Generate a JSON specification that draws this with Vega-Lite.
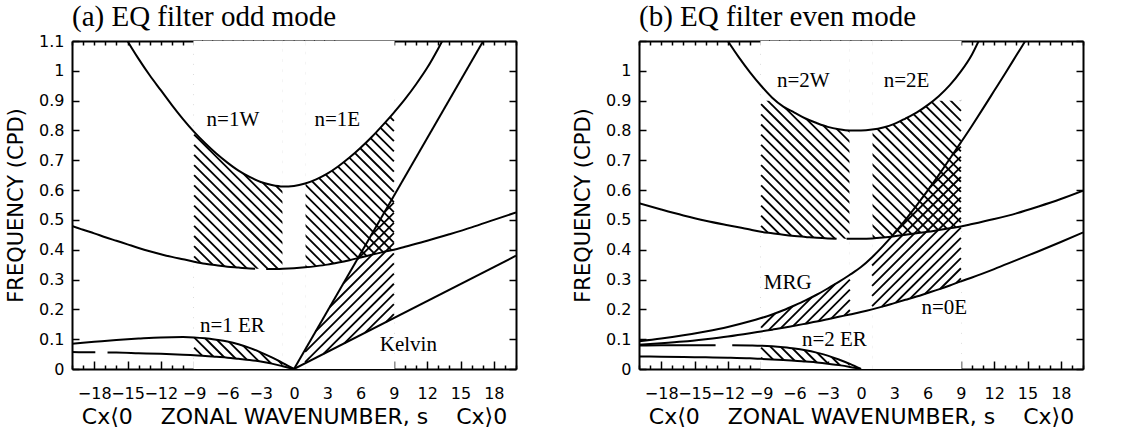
{
  "$schema": "https://vega.github.io/schema/vega-lite/v6.json",
  "background": "white",
  "padding": {"left": 5, "top": 3, "right": 5, "bottom": 0},
  "spacing": 55,
  "config": {
    "view": {"stroke": null},
    "axis": {"domainColor": "black", "domainWidth": 2, "tickColor": "black", "tickWidth": 1.5, "labelColor": "black", "labelFont": "DejaVu Sans", "labelFontSize": 16, "titleColor": "black", "titleFont": "DejaVu Sans", "titleFontWeight": "normal", "grid": false, "zindex": 1, "minExtent": 0}
  },
  "datasets": {
    "frame": [{"s": -20, "f": 0}, {"s": 20, "f": 1.1}],
    "back": [
      {"x1":-9,"y1":0.004,"x2":-8.892,"y2":0},{"x1":-9,"y1":0.038,"x2":-7.976,"y2":0},{"x1":-9,"y1":0.072,"x2":-7.059,"y2":0},{"x1":-9,"y1":0.106,"x2":-6.143,"y2":0},
      {"x1":-9,"y1":0.140,"x2":-5.226,"y2":0},{"x1":-9,"y1":0.174,"x2":-4.310,"y2":0},{"x1":-9,"y1":0.208,"x2":-3.394,"y2":0},{"x1":-9,"y1":0.242,"x2":-2.477,"y2":0},
      {"x1":-9,"y1":0.276,"x2":-1.561,"y2":0},{"x1":-9,"y1":0.310,"x2":-0.644,"y2":0},{"x1":-9,"y1":0.344,"x2":0.272,"y2":0},{"x1":-9,"y1":0.378,"x2":1.190,"y2":0},
      {"x1":-9,"y1":0.412,"x2":2.105,"y2":0},{"x1":-9,"y1":0.446,"x2":3.022,"y2":0},{"x1":-9,"y1":0.480,"x2":3.938,"y2":0},{"x1":-9,"y1":0.514,"x2":4.854,"y2":0},
      {"x1":-9,"y1":0.548,"x2":5.771,"y2":0},{"x1":-9,"y1":0.582,"x2":6.687,"y2":0},{"x1":-9,"y1":0.616,"x2":7.604,"y2":0},{"x1":-9,"y1":0.650,"x2":8.520,"y2":0},
      {"x1":-9,"y1":0.684,"x2":9,"y2":0.016},{"x1":-9,"y1":0.718,"x2":9,"y2":0.050},{"x1":-9,"y1":0.752,"x2":9,"y2":0.084},{"x1":-9,"y1":0.786,"x2":9,"y2":0.118},
      {"x1":-9,"y1":0.820,"x2":9,"y2":0.152},{"x1":-9,"y1":0.854,"x2":9,"y2":0.186},{"x1":-9,"y1":0.888,"x2":9,"y2":0.220},{"x1":-9,"y1":0.922,"x2":9,"y2":0.254},
      {"x1":-9,"y1":0.956,"x2":9,"y2":0.288},{"x1":-9,"y1":0.990,"x2":9,"y2":0.322},{"x1":-9,"y1":1.024,"x2":9,"y2":0.356},{"x1":-9,"y1":1.058,"x2":9,"y2":0.390},
      {"x1":-9,"y1":1.092,"x2":9,"y2":0.424},{"x1":-8.300,"y1":1.1,"x2":9,"y2":0.458},{"x1":-7.383,"y1":1.1,"x2":9,"y2":0.492},{"x1":-6.466,"y1":1.1,"x2":9,"y2":0.526},
      {"x1":-5.550,"y1":1.1,"x2":9,"y2":0.560},{"x1":-4.633,"y1":1.1,"x2":9,"y2":0.594},{"x1":-3.717,"y1":1.1,"x2":9,"y2":0.628},{"x1":-2.801,"y1":1.1,"x2":9,"y2":0.662},
      {"x1":-1.884,"y1":1.1,"x2":9,"y2":0.696},{"x1":-0.968,"y1":1.1,"x2":9,"y2":0.730},{"x1":-0.051,"y1":1.1,"x2":9,"y2":0.764},{"x1":0.865,"y1":1.1,"x2":9,"y2":0.798},
      {"x1":1.782,"y1":1.1,"x2":9,"y2":0.832},{"x1":2.698,"y1":1.1,"x2":9,"y2":0.866},{"x1":3.615,"y1":1.1,"x2":9,"y2":0.900}
    ],
    "slashA": [
      {"x1":8.287,"y1":0.1575,"x2":9,"y2":0.1839},{"x1":6.409,"y1":0.1218,"x2":9,"y2":0.2179},{"x1":4.530,"y1":0.0861,"x2":9,"y2":0.2519},
      {"x1":2.652,"y1":0.0504,"x2":9,"y2":0.2859},{"x1":1,"y1":0.0231,"x2":9,"y2":0.3199},{"x1":1,"y1":0.0571,"x2":9,"y2":0.3539},
      {"x1":1.971,"y1":0.1271,"x2":9,"y2":0.3879},{"x1":3.212,"y1":0.2071,"x2":9,"y2":0.4219},{"x1":4.453,"y1":0.2872,"x2":9,"y2":0.4559},
      {"x1":5.693,"y1":0.3672,"x2":9,"y2":0.4899},{"x1":6.934,"y1":0.4473,"x2":9,"y2":0.5239},{"x1":8.175,"y1":0.5273,"x2":9,"y2":0.5579}
    ],
    "slashB": [
      {"x1":-1.517,"y1":0.1787,"x2":-1,"y2":0.1979},{"x1":-2.690,"y1":0.1692,"x2":-1,"y2":0.2319},{"x1":-3.862,"y1":0.1597,"x2":-1,"y2":0.2659},
      {"x1":-4.968,"y1":0.1527,"x2":-1,"y2":0.2999},{"x1":-6.1,"y1":0.1447,"x2":-2.333,"y2":0.2844},{"x1":-7.226,"y1":0.1369,"x2":-4.421,"y2":0.241},
      {"x1":-8.323,"y1":0.1302,"x2":-6.143,"y2":0.2111},{"x1":-9,"y1":0.1391,"x2":-7.72,"y2":0.1866},
      {"x1":8.565,"y1":0.2878,"x2":9,"y2":0.3039},{"x1":7.125,"y1":0.2683,"x2":9,"y2":0.3379},{"x1":5.769,"y1":0.252,"x2":9,"y2":0.3719},
      {"x1":4.462,"y1":0.2375,"x2":9,"y2":0.4059},{"x1":3.154,"y1":0.223,"x2":9,"y2":0.4399},{"x1":1.852,"y1":0.2087,"x2":9,"y2":0.4739},
      {"x1":1,"y1":0.2111,"x2":9,"y2":0.5079},{"x1":1,"y1":0.2451,"x2":9,"y2":0.5419},{"x1":1,"y1":0.2791,"x2":9,"y2":0.5759},
      {"x1":1,"y1":0.3131,"x2":9,"y2":0.6099},{"x1":1,"y1":0.3471,"x2":9,"y2":0.6439},{"x1":3,"y1":0.4553,"x2":9,"y2":0.6779},
      {"x1":6.2,"y1":0.608,"x2":9,"y2":0.7119},{"x1":8.222,"y1":0.717,"x2":9,"y2":0.7459}
    ],
    "maskA": [
      {"id":"L1","s":-9.06,"lo":0,"hi":0.046},{"id":"L1","s":-9,"lo":0,"hi":0.046},{"id":"L1","s":-8,"lo":0,"hi":0.044},{"id":"L1","s":-7,"lo":0,"hi":0.041},{"id":"L1","s":-6,"lo":0,"hi":0.038},{"id":"L1","s":-5,"lo":0,"hi":0.034},{"id":"L1","s":-4,"lo":0,"hi":0.030},{"id":"L1","s":-3,"lo":0,"hi":0.025},{"id":"L1","s":-2,"lo":0,"hi":0.018},{"id":"L1","s":-1,"lo":0,"hi":0.009},
      {"id":"L2","s":-9.06,"lo":0.106,"hi":0.36},{"id":"L2","s":-9,"lo":0.106,"hi":0.36},{"id":"L2","s":-8,"lo":0.103,"hi":0.353},{"id":"L2","s":-7,"lo":0.098,"hi":0.348},{"id":"L2","s":-6,"lo":0.092,"hi":0.343},{"id":"L2","s":-5,"lo":0.083,"hi":0.34},{"id":"L2","s":-4,"lo":0.071,"hi":0.337},{"id":"L2","s":-3,"lo":0.056,"hi":0.336},{"id":"L2","s":-2,"lo":0.039,"hi":0.335},{"id":"L2","s":-1,"lo":0.020,"hi":0.336},
      {"id":"L3","s":-9.06,"lo":0.795,"hi":1.1},{"id":"L3","s":-9,"lo":0.795,"hi":1.1},{"id":"L3","s":-8,"lo":0.757,"hi":1.1},{"id":"L3","s":-7,"lo":0.7225,"hi":1.1},{"id":"L3","s":-6,"lo":0.692,"hi":1.1},{"id":"L3","s":-5,"lo":0.665,"hi":1.1},{"id":"L3","s":-4,"lo":0.644,"hi":1.1},{"id":"L3","s":-3,"lo":0.627,"hi":1.1},{"id":"L3","s":-2,"lo":0.617,"hi":1.1},{"id":"L3","s":-1,"lo":0.612,"hi":1.1},
      {"id":"M","s":-1.04,"lo":0,"hi":1.1},{"id":"M","s":1.04,"lo":0,"hi":1.1},
      {"id":"R1","s":1,"lo":0,"hi":0.341},{"id":"R1","s":2,"lo":0,"hi":0.345},{"id":"R1","s":3,"lo":0,"hi":0.35},{"id":"R1","s":4,"lo":0,"hi":0.357},{"id":"R1","s":5,"lo":0,"hi":0.365},{"id":"R1","s":6,"lo":0,"hi":0.374},{"id":"R1","s":7,"lo":0,"hi":0.383},{"id":"R1","s":8,"lo":0,"hi":0.392},{"id":"R1","s":9,"lo":0,"hi":0.40},{"id":"R1","s":9.06,"lo":0,"hi":0.40},
      {"id":"R2","s":1,"lo":0.622,"hi":1.1},{"id":"R2","s":2,"lo":0.636,"hi":1.1},{"id":"R2","s":3,"lo":0.655,"hi":1.1},{"id":"R2","s":4,"lo":0.68,"hi":1.1},{"id":"R2","s":5,"lo":0.709,"hi":1.1},{"id":"R2","s":6,"lo":0.742,"hi":1.1},{"id":"R2","s":7,"lo":0.778,"hi":1.1},{"id":"R2","s":8,"lo":0.818,"hi":1.1},{"id":"R2","s":9,"lo":0.86,"hi":1.1},{"id":"R2","s":9.06,"lo":0.86,"hi":1.1}
    ],
    "maskB": [
      {"id":"L1","s":-9.06,"lo":0,"hi":0.034},{"id":"L1","s":-9,"lo":0,"hi":0.034},{"id":"L1","s":-8,"lo":0,"hi":0.032},{"id":"L1","s":-7,"lo":0,"hi":0.030},{"id":"L1","s":-6,"lo":0,"hi":0.028},{"id":"L1","s":-5,"lo":0,"hi":0.025},{"id":"L1","s":-4,"lo":0,"hi":0.022},{"id":"L1","s":-3,"lo":0,"hi":0.018},{"id":"L1","s":-2,"lo":0,"hi":0.013},{"id":"L1","s":-1,"lo":0,"hi":0.007},
      {"id":"L2","s":-9.06,"lo":0.078,"hi":0.46},{"id":"L2","s":-9,"lo":0.078,"hi":0.46},{"id":"L2","s":-8,"lo":0.076,"hi":0.455},{"id":"L2","s":-7,"lo":0.073,"hi":0.45},{"id":"L2","s":-6,"lo":0.069,"hi":0.446},{"id":"L2","s":-5,"lo":0.063,"hi":0.443},{"id":"L2","s":-4,"lo":0.055,"hi":0.44},{"id":"L2","s":-3,"lo":0.045,"hi":0.438},{"id":"L2","s":-2,"lo":0.032,"hi":0.437},{"id":"L2","s":-1,"lo":0.017,"hi":0.437},
      {"id":"L3","s":-9.06,"lo":0.9,"hi":1.1},{"id":"L3","s":-9,"lo":0.9,"hi":1.1},{"id":"L3","s":-8,"lo":0.9,"hi":1.1},{"id":"L3","s":-7.67,"lo":0.9,"hi":1.1},{"id":"L3","s":-7,"lo":0.88,"hi":1.1},{"id":"L3","s":-6,"lo":0.86,"hi":1.1},{"id":"L3","s":-5,"lo":0.84,"hi":1.1},{"id":"L3","s":-4,"lo":0.825,"hi":1.1},{"id":"L3","s":-3,"lo":0.812,"hi":1.1},{"id":"L3","s":-2,"lo":0.804,"hi":1.1},{"id":"L3","s":-1,"lo":0.80,"hi":1.1},
      {"id":"M","s":-1.04,"lo":0,"hi":1.1},{"id":"M","s":1.04,"lo":0,"hi":1.1},
      {"id":"R1","s":1,"lo":0,"hi":0.438},{"id":"R1","s":2,"lo":0,"hi":0.441},{"id":"R1","s":3,"lo":0,"hi":0.445},{"id":"R1","s":4,"lo":0,"hi":0.45},{"id":"R1","s":5,"lo":0,"hi":0.455},{"id":"R1","s":6,"lo":0,"hi":0.46},{"id":"R1","s":7,"lo":0,"hi":0.466},{"id":"R1","s":8,"lo":0,"hi":0.472},{"id":"R1","s":9,"lo":0,"hi":0.478},{"id":"R1","s":9.06,"lo":0,"hi":0.478},
      {"id":"R2","s":1,"lo":0.803,"hi":1.1},{"id":"R2","s":2,"lo":0.81,"hi":1.1},{"id":"R2","s":3,"lo":0.822,"hi":1.1},{"id":"R2","s":4,"lo":0.84,"hi":1.1},{"id":"R2","s":5,"lo":0.86,"hi":1.1},{"id":"R2","s":6,"lo":0.885,"hi":1.1},{"id":"R2","s":6.5,"lo":0.9,"hi":1.1},{"id":"R2","s":7,"lo":0.9,"hi":1.1},{"id":"R2","s":8,"lo":0.9,"hi":1.1},{"id":"R2","s":9,"lo":0.9,"hi":1.1},{"id":"R2","s":9.06,"lo":0.9,"hi":1.1}
    ],
    "curvesA": [
      {"id":"IGout","s":-15.3,"f":1.12},{"id":"IGout","s":-15,"f":1.10},{"id":"IGout","s":-14,"f":1.04},{"id":"IGout","s":-13,"f":0.985},{"id":"IGout","s":-12,"f":0.935},{"id":"IGout","s":-11,"f":0.885},{"id":"IGout","s":-10,"f":0.838},{"id":"IGout","s":-9,"f":0.795},{"id":"IGout","s":-8,"f":0.757},{"id":"IGout","s":-7,"f":0.7225},{"id":"IGout","s":-6,"f":0.692},{"id":"IGout","s":-5,"f":0.665},{"id":"IGout","s":-4,"f":0.644},{"id":"IGout","s":-3,"f":0.627},{"id":"IGout","s":-2,"f":0.617},{"id":"IGout","s":-1,"f":0.612},{"id":"IGout","s":0,"f":0.614},{"id":"IGout","s":1,"f":0.622},{"id":"IGout","s":2,"f":0.636},{"id":"IGout","s":3,"f":0.655},{"id":"IGout","s":4,"f":0.68},{"id":"IGout","s":5,"f":0.709},{"id":"IGout","s":6,"f":0.742},{"id":"IGout","s":7,"f":0.778},{"id":"IGout","s":8,"f":0.818},{"id":"IGout","s":9,"f":0.86},{"id":"IGout","s":10,"f":0.905},{"id":"IGout","s":11,"f":0.955},{"id":"IGout","s":12,"f":1.01},{"id":"IGout","s":13,"f":1.075},{"id":"IGout","s":13.5,"f":1.11},
      {"id":"IGin1","s":-20,"f":0.48},{"id":"IGin1","s":-19,"f":0.467},{"id":"IGin1","s":-18,"f":0.455},{"id":"IGin1","s":-17,"f":0.442},{"id":"IGin1","s":-16,"f":0.43},{"id":"IGin1","s":-15,"f":0.418},{"id":"IGin1","s":-14,"f":0.406},{"id":"IGin1","s":-13,"f":0.395},{"id":"IGin1","s":-12,"f":0.385},{"id":"IGin1","s":-11,"f":0.376},{"id":"IGin1","s":-10,"f":0.368},{"id":"IGin1","s":-9,"f":0.36},{"id":"IGin1","s":-8,"f":0.353},{"id":"IGin1","s":-7,"f":0.348},{"id":"IGin1","s":-6,"f":0.343},{"id":"IGin1","s":-5,"f":0.34},{"id":"IGin1","s":-4,"f":0.337},{"id":"IGin1","s":-3.5,"f":0.3365},
      {"id":"IGin2","s":-2.5,"f":0.3355},{"id":"IGin2","s":-2,"f":0.335},{"id":"IGin2","s":-1,"f":0.336},{"id":"IGin2","s":0,"f":0.338},{"id":"IGin2","s":1,"f":0.341},{"id":"IGin2","s":2,"f":0.345},{"id":"IGin2","s":3,"f":0.35},{"id":"IGin2","s":4,"f":0.357},{"id":"IGin2","s":5,"f":0.365},{"id":"IGin2","s":6,"f":0.374},{"id":"IGin2","s":7,"f":0.383},{"id":"IGin2","s":8,"f":0.392},{"id":"IGin2","s":9,"f":0.40},{"id":"IGin2","s":10,"f":0.41},{"id":"IGin2","s":12,"f":0.43},{"id":"IGin2","s":14,"f":0.452},{"id":"IGin2","s":16,"f":0.475},{"id":"IGin2","s":18,"f":0.50},{"id":"IGin2","s":20,"f":0.525},
      {"id":"ERhi","s":-20,"f":0.085},{"id":"ERhi","s":-18,"f":0.091},{"id":"ERhi","s":-16,"f":0.097},{"id":"ERhi","s":-14,"f":0.102},{"id":"ERhi","s":-12,"f":0.106},{"id":"ERhi","s":-10,"f":0.107},{"id":"ERhi","s":-9,"f":0.106},{"id":"ERhi","s":-8,"f":0.103},{"id":"ERhi","s":-7,"f":0.098},{"id":"ERhi","s":-6,"f":0.092},{"id":"ERhi","s":-5,"f":0.083},{"id":"ERhi","s":-4,"f":0.071},{"id":"ERhi","s":-3,"f":0.056},{"id":"ERhi","s":-2,"f":0.039},{"id":"ERhi","s":-1,"f":0.02},{"id":"ERhi","s":0,"f":0},
      {"id":"ERlo1","s":-20,"f":0.057},{"id":"ERlo1","s":-18,"f":0.056},{"id":"ERlo1","s":-17.9,"f":0.056},
      {"id":"ERlo2","s":-16.8,"f":0.0552},{"id":"ERlo2","s":-16,"f":0.055},{"id":"ERlo2","s":-14,"f":0.053},{"id":"ERlo2","s":-12,"f":0.051},{"id":"ERlo2","s":-10,"f":0.048},{"id":"ERlo2","s":-9,"f":0.046},{"id":"ERlo2","s":-8,"f":0.044},{"id":"ERlo2","s":-7,"f":0.041},{"id":"ERlo2","s":-6,"f":0.038},{"id":"ERlo2","s":-5,"f":0.034},{"id":"ERlo2","s":-4,"f":0.03},{"id":"ERlo2","s":-3,"f":0.025},{"id":"ERlo2","s":-2,"f":0.018},{"id":"ERlo2","s":-1,"f":0.009},{"id":"ERlo2","s":0,"f":0},
      {"id":"Khi","s":0,"f":0},{"id":"Khi","s":17.05,"f":1.1},
      {"id":"Klo","s":0,"f":0},{"id":"Klo","s":20,"f":0.38}
    ],
    "curvesB": [
      {"id":"IGout","s":-12,"f":1.10},{"id":"IGout","s":-11,"f":1.045},{"id":"IGout","s":-10,"f":0.995},{"id":"IGout","s":-9,"f":0.95},{"id":"IGout","s":-8,"f":0.91},{"id":"IGout","s":-7,"f":0.88},{"id":"IGout","s":-6,"f":0.86},{"id":"IGout","s":-5,"f":0.84},{"id":"IGout","s":-4,"f":0.825},{"id":"IGout","s":-3,"f":0.812},{"id":"IGout","s":-2,"f":0.804},{"id":"IGout","s":-1,"f":0.80},{"id":"IGout","s":0,"f":0.80},{"id":"IGout","s":1,"f":0.803},{"id":"IGout","s":2,"f":0.81},{"id":"IGout","s":3,"f":0.822},{"id":"IGout","s":4,"f":0.84},{"id":"IGout","s":5,"f":0.86},{"id":"IGout","s":6,"f":0.885},{"id":"IGout","s":7,"f":0.915},{"id":"IGout","s":8,"f":0.952},{"id":"IGout","s":9,"f":0.998},{"id":"IGout","s":10,"f":1.055},{"id":"IGout","s":10.6,"f":1.1},
      {"id":"IGin1","s":-20,"f":0.556},{"id":"IGin1","s":-18,"f":0.535},{"id":"IGin1","s":-16,"f":0.515},{"id":"IGin1","s":-14,"f":0.497},{"id":"IGin1","s":-12,"f":0.482},{"id":"IGin1","s":-10,"f":0.468},{"id":"IGin1","s":-9,"f":0.46},{"id":"IGin1","s":-8,"f":0.455},{"id":"IGin1","s":-7,"f":0.45},{"id":"IGin1","s":-6,"f":0.446},{"id":"IGin1","s":-5,"f":0.443},{"id":"IGin1","s":-4,"f":0.44},{"id":"IGin1","s":-3,"f":0.438},{"id":"IGin1","s":-2.2,"f":0.4372},
      {"id":"IGin2","s":-1.3,"f":0.437},{"id":"IGin2","s":-1,"f":0.437},{"id":"IGin2","s":0,"f":0.437},{"id":"IGin2","s":1,"f":0.438},{"id":"IGin2","s":2,"f":0.441},{"id":"IGin2","s":3,"f":0.445},{"id":"IGin2","s":4,"f":0.45},{"id":"IGin2","s":5,"f":0.455},{"id":"IGin2","s":6,"f":0.46},{"id":"IGin2","s":7,"f":0.466},{"id":"IGin2","s":8,"f":0.472},{"id":"IGin2","s":9,"f":0.478},{"id":"IGin2","s":10,"f":0.486},{"id":"IGin2","s":12,"f":0.503},{"id":"IGin2","s":14,"f":0.522},{"id":"IGin2","s":16,"f":0.545},{"id":"IGin2","s":18,"f":0.57},{"id":"IGin2","s":20,"f":0.598},
      {"id":"N0hi","s":-20,"f":0.093},{"id":"N0hi","s":-18,"f":0.102},{"id":"N0hi","s":-16,"f":0.113},{"id":"N0hi","s":-14,"f":0.126},{"id":"N0hi","s":-12,"f":0.141},{"id":"N0hi","s":-10,"f":0.16},{"id":"N0hi","s":-9,"f":0.171},{"id":"N0hi","s":-8,"f":0.183},{"id":"N0hi","s":-7,"f":0.197},{"id":"N0hi","s":-6,"f":0.213},{"id":"N0hi","s":-5,"f":0.23},{"id":"N0hi","s":-4,"f":0.249},{"id":"N0hi","s":-3,"f":0.27},{"id":"N0hi","s":-2,"f":0.292},{"id":"N0hi","s":-1,"f":0.316},{"id":"N0hi","s":0,"f":0.342},{"id":"N0hi","s":1,"f":0.375},{"id":"N0hi","s":2,"f":0.413},{"id":"N0hi","s":3,"f":0.455},{"id":"N0hi","s":4,"f":0.5},{"id":"N0hi","s":5,"f":0.548},{"id":"N0hi","s":6,"f":0.598},{"id":"N0hi","s":7,"f":0.65},{"id":"N0hi","s":8,"f":0.705},{"id":"N0hi","s":9,"f":0.76},{"id":"N0hi","s":10,"f":0.816},{"id":"N0hi","s":11,"f":0.874},{"id":"N0hi","s":12,"f":0.933},{"id":"N0hi","s":13,"f":0.992},{"id":"N0hi","s":14,"f":1.052},{"id":"N0hi","s":14.8,"f":1.1},
      {"id":"N0lo","s":-20,"f":0.081},{"id":"N0lo","s":-18,"f":0.086},{"id":"N0lo","s":-16,"f":0.092},{"id":"N0lo","s":-14,"f":0.100},{"id":"N0lo","s":-12,"f":0.109},{"id":"N0lo","s":-10,"f":0.120},{"id":"N0lo","s":-9,"f":0.126},{"id":"N0lo","s":-8,"f":0.132},{"id":"N0lo","s":-7,"f":0.138},{"id":"N0lo","s":-6,"f":0.145},{"id":"N0lo","s":-5,"f":0.152},{"id":"N0lo","s":-4,"f":0.159},{"id":"N0lo","s":-3,"f":0.167},{"id":"N0lo","s":-2,"f":0.175},{"id":"N0lo","s":-1,"f":0.183},{"id":"N0lo","s":0,"f":0.191},{"id":"N0lo","s":1,"f":0.2},{"id":"N0lo","s":2,"f":0.21},{"id":"N0lo","s":3,"f":0.221},{"id":"N0lo","s":4,"f":0.232},{"id":"N0lo","s":5,"f":0.243},{"id":"N0lo","s":6,"f":0.255},{"id":"N0lo","s":7,"f":0.267},{"id":"N0lo","s":8,"f":0.28},{"id":"N0lo","s":9,"f":0.294},{"id":"N0lo","s":10,"f":0.307},{"id":"N0lo","s":12,"f":0.335},{"id":"N0lo","s":14,"f":0.365},{"id":"N0lo","s":16,"f":0.395},{"id":"N0lo","s":18,"f":0.426},{"id":"N0lo","s":20,"f":0.458},
      {"id":"ERhi1","s":-20,"f":0.079},{"id":"ERhi1","s":-18,"f":0.08},{"id":"ERhi1","s":-16,"f":0.08},{"id":"ERhi1","s":-14,"f":0.08},{"id":"ERhi1","s":-13.1,"f":0.08},
      {"id":"ERhi2","s":-11.6,"f":0.08},{"id":"ERhi2","s":-10,"f":0.079},{"id":"ERhi2","s":-9,"f":0.078},{"id":"ERhi2","s":-8,"f":0.076},{"id":"ERhi2","s":-7,"f":0.073},{"id":"ERhi2","s":-6,"f":0.069},{"id":"ERhi2","s":-5,"f":0.063},{"id":"ERhi2","s":-4,"f":0.055},{"id":"ERhi2","s":-3,"f":0.045},{"id":"ERhi2","s":-2,"f":0.032},{"id":"ERhi2","s":-1,"f":0.017},{"id":"ERhi2","s":0,"f":0},
      {"id":"ERlo","s":-20,"f":0.042},{"id":"ERlo","s":-18,"f":0.041},{"id":"ERlo","s":-16,"f":0.040},{"id":"ERlo","s":-14,"f":0.039},{"id":"ERlo","s":-12,"f":0.038},{"id":"ERlo","s":-10,"f":0.036},{"id":"ERlo","s":-9,"f":0.034},{"id":"ERlo","s":-8,"f":0.032},{"id":"ERlo","s":-7,"f":0.030},{"id":"ERlo","s":-6,"f":0.028},{"id":"ERlo","s":-5,"f":0.025},{"id":"ERlo","s":-4,"f":0.022},{"id":"ERlo","s":-3,"f":0.018},{"id":"ERlo","s":-2,"f":0.013},{"id":"ERlo","s":-1,"f":0.007},{"id":"ERlo","s":0,"f":0}
    ]
  },
  "hconcat": [
    {
      "width": 444, "height": 328,
      "title": {"text": "(a) EQ filter odd mode", "font": "Liberation Serif", "fontSize": 29, "fontWeight": "normal", "anchor": "start", "frame": "group", "offset": 1, "color": "black"},
      "layer": [
        {"data": {"name": "back"}, "mark": {"type": "rule", "strokeWidth": 1.8, "color": "black"},
         "encoding": {"x": {"field": "x1", "type": "quantitative", "scale": {"domain": [-20, 20], "nice": false, "zero": false}, "axis": null},
                      "y": {"field": "y1", "type": "quantitative", "scale": {"domain": [0, 1.1], "nice": false, "zero": false}, "axis": null},
                      "x2": {"field": "x2"}, "y2": {"field": "y2"}}},
        {"data": {"name": "maskA"}, "mark": {"type": "area", "color": "white", "opacity": 1},
         "encoding": {"x": {"field": "s", "type": "quantitative", "scale": {"domain": [-20, 20], "nice": false, "zero": false}, "axis": null},
                      "y": {"field": "lo", "type": "quantitative", "stack": null, "scale": {"domain": [0, 1.1], "nice": false, "zero": false}, "axis": null},
                      "y2": {"field": "hi"}, "detail": {"field": "id"}}},
        {"data": {"name": "slashA"}, "mark": {"type": "rule", "strokeWidth": 1.8, "color": "black"},
         "encoding": {"x": {"field": "x1", "type": "quantitative", "scale": {"domain": [-20, 20], "nice": false, "zero": false}, "axis": null},
                      "y": {"field": "y1", "type": "quantitative", "scale": {"domain": [0, 1.1], "nice": false, "zero": false}, "axis": null},
                      "x2": {"field": "x2"}, "y2": {"field": "y2"}}},
        {"data": {"name": "curvesA"}, "mark": {"type": "line", "clip": true, "strokeWidth": 2, "color": "black", "interpolate": "monotone"},
         "encoding": {
           "x": {"field": "s", "type": "quantitative", "scale": {"domain": [-20, 20], "nice": false, "zero": false},
                 "axis": {"orient": "bottom", "values": [-20,-19,-18,-17,-16,-15,-14,-13,-12,-11,-10,-9,-8,-7,-6,-5,-4,-3,-2,-1,0,1,2,3,4,5,6,7,8,9,10,11,12,13,14,15,16,17,18,19,20],
                          "format": "d", "labelExpr": "datum.value % 3 == 0 ? datum.label : ''",
                          "tickSize": {"condition": {"test": "datum.value % 3 == 0", "value": -8}, "value": -4},
                          "labelPadding": 24, "labelFlush": false, "labelOverlap": false,
                          "title": "Cx⟨0\u00a0\u00a0\u00a0\u00a0ZONAL WAVENUMBER, s\u00a0\u00a0\u00a0\u00a0Cx⟩0", "titleFontSize": 22, "titlePadding": 1}},
           "y": {"field": "f", "type": "quantitative", "scale": {"domain": [0, 1.1], "nice": false, "zero": false},
                 "axis": {"orient": "left", "values": [0,0.1,0.2,0.3,0.4,0.5,0.6,0.7,0.8,0.9,1,1.1],
                          "labelExpr": "datum.value == 0 ? '0' : datum.value == 1 ? '1' : format(datum.value, '.1f')",
                          "tickSize": -7, "labelPadding": 15, "labelFlush": false, "labelOverlap": false,
                          "title": "FREQUENCY (CPD)", "titleFontSize": 21, "titlePadding": 12}},
           "detail": {"field": "id"}}},
        {"data": {"name": "frame"}, "mark": {"type": "line", "opacity": 0},
         "encoding": {
           "x": {"field": "s", "type": "quantitative", "scale": {"domain": [-20, 20], "nice": false, "zero": false},
                 "axis": {"orient": "top", "values": [-20,-19,-18,-17,-16,-15,-14,-13,-12,-11,-10,-9,-8,-7,-6,-5,-4,-3,-2,-1,0,1,2,3,4,5,6,7,8,9,10,11,12,13,14,15,16,17,18,19,20], "labels": false, "tickSize": -4, "title": null, "minExtent": 0, "maxExtent": 0}},
           "y": {"field": "f", "type": "quantitative", "scale": {"domain": [0, 1.1], "nice": false, "zero": false},
                 "axis": {"orient": "right", "values": [0,0.1,0.2,0.3,0.4,0.5,0.6,0.7,0.8,0.9,1,1.1], "labels": false, "tickSize": -7, "title": null, "minExtent": 0, "maxExtent": 0}}}},
        {"data": {"values": [
            {"s": -5.5, "f": 0.815, "t": "n=1W"}, {"s": 3.9, "f": 0.815, "t": "n=1E"},
            {"s": -5.55, "f": 0.124, "t": "n=1 ER"}, {"s": 10.3, "f": 0.062, "t": "Kelvin"}]},
         "mark": {"type": "text", "font": "Liberation Serif", "fontSize": 21, "baseline": "alphabetic", "align": "center", "color": "black"},
         "encoding": {"x": {"field": "s", "type": "quantitative", "scale": {"domain": [-20, 20], "nice": false, "zero": false}, "axis": null},
                      "y": {"field": "f", "type": "quantitative", "scale": {"domain": [0, 1.1], "nice": false, "zero": false}, "axis": null},
                      "text": {"field": "t"}}}
      ],
      "resolve": {"axis": {"x": "independent", "y": "independent"}}
    },
    {
      "width": 444, "height": 328,
      "title": {"text": "(b) EQ filter even mode", "font": "Liberation Serif", "fontSize": 29, "fontWeight": "normal", "anchor": "start", "frame": "group", "offset": 1, "color": "black"},
      "layer": [
        {"data": {"name": "back"}, "mark": {"type": "rule", "strokeWidth": 1.8, "color": "black"},
         "encoding": {"x": {"field": "x1", "type": "quantitative", "scale": {"domain": [-20, 20], "nice": false, "zero": false}, "axis": null},
                      "y": {"field": "y1", "type": "quantitative", "scale": {"domain": [0, 1.1], "nice": false, "zero": false}, "axis": null},
                      "x2": {"field": "x2"}, "y2": {"field": "y2"}}},
        {"data": {"name": "maskB"}, "mark": {"type": "area", "color": "white", "opacity": 1},
         "encoding": {"x": {"field": "s", "type": "quantitative", "scale": {"domain": [-20, 20], "nice": false, "zero": false}, "axis": null},
                      "y": {"field": "lo", "type": "quantitative", "stack": null, "scale": {"domain": [0, 1.1], "nice": false, "zero": false}, "axis": null},
                      "y2": {"field": "hi"}, "detail": {"field": "id"}}},
        {"data": {"name": "slashB"}, "mark": {"type": "rule", "strokeWidth": 1.8, "color": "black"},
         "encoding": {"x": {"field": "x1", "type": "quantitative", "scale": {"domain": [-20, 20], "nice": false, "zero": false}, "axis": null},
                      "y": {"field": "y1", "type": "quantitative", "scale": {"domain": [0, 1.1], "nice": false, "zero": false}, "axis": null},
                      "x2": {"field": "x2"}, "y2": {"field": "y2"}}},
        {"data": {"name": "curvesB"}, "mark": {"type": "line", "clip": true, "strokeWidth": 2, "color": "black", "interpolate": "monotone"},
         "encoding": {
           "x": {"field": "s", "type": "quantitative", "scale": {"domain": [-20, 20], "nice": false, "zero": false},
                 "axis": {"orient": "bottom", "values": [-20,-19,-18,-17,-16,-15,-14,-13,-12,-11,-10,-9,-8,-7,-6,-5,-4,-3,-2,-1,0,1,2,3,4,5,6,7,8,9,10,11,12,13,14,15,16,17,18,19,20],
                          "format": "d", "labelExpr": "datum.value % 3 == 0 ? datum.label : ''",
                          "tickSize": {"condition": {"test": "datum.value % 3 == 0", "value": -8}, "value": -4},
                          "labelPadding": 24, "labelFlush": false, "labelOverlap": false,
                          "title": "Cx⟨0\u00a0\u00a0\u00a0\u00a0ZONAL WAVENUMBER, s\u00a0\u00a0\u00a0\u00a0Cx⟩0", "titleFontSize": 22, "titlePadding": 1}},
           "y": {"field": "f", "type": "quantitative", "scale": {"domain": [0, 1.1], "nice": false, "zero": false},
                 "axis": {"orient": "left", "values": [0,0.1,0.2,0.3,0.4,0.5,0.6,0.7,0.8,0.9,1,1.1],
                          "labelExpr": "datum.value > 1.05 ? '' : datum.value == 0 ? '0' : datum.value == 1 ? '1' : format(datum.value, '.1f')",
                          "tickSize": -7, "labelPadding": 15, "labelFlush": false, "labelOverlap": false,
                          "title": "FREQUENCY (CPD)", "titleFontSize": 21, "titlePadding": 12}},
           "detail": {"field": "id"}}},
        {"data": {"name": "frame"}, "mark": {"type": "line", "opacity": 0},
         "encoding": {
           "x": {"field": "s", "type": "quantitative", "scale": {"domain": [-20, 20], "nice": false, "zero": false},
                 "axis": {"orient": "top", "values": [-20,-19,-18,-17,-16,-15,-14,-13,-12,-11,-10,-9,-8,-7,-6,-5,-4,-3,-2,-1,0,1,2,3,4,5,6,7,8,9,10,11,12,13,14,15,16,17,18,19,20], "labels": false, "tickSize": -4, "title": null, "minExtent": 0, "maxExtent": 0}},
           "y": {"field": "f", "type": "quantitative", "scale": {"domain": [0, 1.1], "nice": false, "zero": false},
                 "axis": {"orient": "right", "values": [0,0.1,0.2,0.3,0.4,0.5,0.6,0.7,0.8,0.9,1,1.1], "labels": false, "tickSize": -7, "title": null, "minExtent": 0, "maxExtent": 0}}}},
        {"data": {"values": [
            {"s": -5.2, "f": 0.947, "t": "n=2W"}, {"s": 4.1, "f": 0.947, "t": "n=2E"},
            {"s": -6.6, "f": 0.268, "t": "MRG"}, {"s": 7.5, "f": 0.186, "t": "n=0E"}, {"s": -2.4, "f": 0.077, "t": "n=2 ER"}]},
         "mark": {"type": "text", "font": "Liberation Serif", "fontSize": 21, "baseline": "alphabetic", "align": "center", "color": "black"},
         "encoding": {"x": {"field": "s", "type": "quantitative", "scale": {"domain": [-20, 20], "nice": false, "zero": false}, "axis": null},
                      "y": {"field": "f", "type": "quantitative", "scale": {"domain": [0, 1.1], "nice": false, "zero": false}, "axis": null},
                      "text": {"field": "t"}}}
      ],
      "resolve": {"axis": {"x": "independent", "y": "independent"}}
    }
  ]
}
